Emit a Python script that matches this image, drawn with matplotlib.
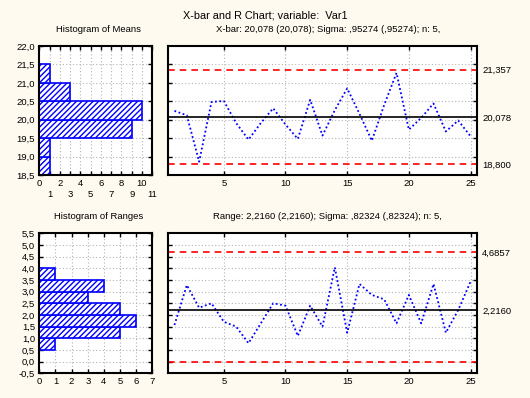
import matplotlib

matplotlib.use("Agg")
import matplotlib.pyplot as plt

plt.rcParams["font.family"] = ["Liberation Sans", "DejaVu Sans"]
plt.rcParams["hatch.linewidth"] = 1.0

# sample numbers and the values
samples = list(range(1, 26))
means = [20.24, 20.12, 18.86, 20.48, 20.51, 19.91, 19.46, 19.91, 20.31, 19.87,
         19.48, 20.54, 19.57, 20.26, 20.85, 20.16, 19.43, 20.40, 21.27, 19.73,
         20.05, 20.44, 19.68, 19.98, 19.55]
ranges = [1.57, 3.28, 2.31, 2.50, 1.71, 1.50, 0.79, 1.64, 2.50, 2.40,
          1.10, 2.40, 1.50, 4.04, 1.24, 3.33, 2.86, 2.67, 1.64, 2.86,
          1.64, 3.33, 1.24, 2.21, 3.43]

mean_bins = [18.5, 19.0, 19.5, 20.0, 20.5, 21.0]
mean_counts = [1, 1, 9, 10, 3, 1]
range_bins = [0.5, 1.0, 1.5, 2.0, 2.5, 3.0, 3.5]
range_counts = [1, 5, 6, 5, 3, 4, 1]

xbar_limits = [18.800, 20.078, 21.357]
r_limits = [0.0, 2.2160, 4.6857]

title = "X-bar and R Chart; variable:  Var1"
xbar_sub = "X-bar: 20,078 (20,078); Sigma: ,95274 (,95274); n: 5,"
r_sub = "Range: 2,2160 (2,2160); Sigma: ,82324 (,82324); n: 5,"

W, H = 530, 398
BG = "#FFFAF0"
GRID = dict(color="#B4B4B4", linestyle=(0, (1, 2)), linewidth=0.8)
TICKFS = 6.8


def comma(v, nd):
    return f"{v:.{nd}f}".replace(".", ",")


def box(left, top, right, bottom):
    return [left / W, 1 - bottom / H, (right - left) / W, (bottom - top) / H]


def style(ax):
    for s in ax.spines.values():
        s.set_linewidth(1.5)
    ax.set_axisbelow(True)
    ax.tick_params(direction="in", length=3, width=1, labelsize=TICKFS,
                   left=True, right=True, top=True, bottom=True, pad=3)


def histogram(ax, bins, counts, xmax, ylim, ystep):
    style(ax)
    ax.barh(bins, counts, height=0.5, align="edge", facecolor="white",
            edgecolor="#0000FF", hatch="//////", linewidth=1.2)
    ax.set_xlim(0, xmax)
    ax.set_ylim(*ylim)
    yt = [ylim[0] + ystep * i for i in range(int(round((ylim[1] - ylim[0]) / ystep)) + 1)]
    ax.set_yticks(yt)
    ax.set_yticklabels([comma(v, 1) for v in yt])
    ax.set_xticks(range(0, xmax + 1))
    ax.grid(True, **GRID)


def control(ax, x, y, limits, ylim, gridlevels, nd):
    style(ax)
    ax.plot(x, y, color="#0000FF", linestyle=(0, (1, 1.4)), linewidth=1.3)
    ax.axhline(limits[1], color="black", linewidth=1.2)
    ax.axhline(limits[0], color="#FF0000", linestyle=(0, (4, 3)), linewidth=1.2)
    ax.axhline(limits[2], color="#FF0000", linestyle=(0, (4, 3)), linewidth=1.2)
    ax.set_xlim(0.5, 25.5)
    ax.set_ylim(*ylim)
    ax.set_xticks([5, 10, 15, 20, 25])
    ax.set_yticks(gridlevels)
    ax.tick_params(axis="y", labelleft=False)
    ax.set_yticks(limits, minor=True)
    ax.set_yticklabels([comma(v, nd) for v in limits], minor=True)
    ax.tick_params(axis="y", which="minor", left=False, right=True, length=0,
                   labelleft=False, labelright=True, labelsize=TICKFS, pad=4)
    ax.tick_params(axis="x", which="minor", bottom=False, top=False)
    ax.grid(True, which="major", **GRID)


fig = plt.figure(figsize=(W / 100, H / 100), dpi=100, facecolor=BG)

ax1 = fig.add_axes(box(39.3, 46, 152.3, 175))
histogram(ax1, mean_bins, mean_counts, 11, (18.5, 22.0), 0.5)
ax1.set_xticklabels([str(i) if i % 2 == 0 else "\n" + str(i) for i in range(12)])

ax2 = fig.add_axes(box(168.3, 46, 476.7, 175))
control(ax2, samples, means, xbar_limits, (18.5, 22.0),
        [19.0, 19.5, 20.0, 20.5, 21.0, 21.5], 3)

ax3 = fig.add_axes(box(39.3, 233.3, 152.3, 373.3))
histogram(ax3, range_bins, range_counts, 7, (-0.5, 5.5), 0.5)

ax4 = fig.add_axes(box(168.3, 233.3, 476.7, 373.3))
control(ax4, samples, ranges, r_limits, (-0.5, 5.5),
        [0.5 * i for i in range(0, 11)], 4)

fig.text(0.5, 1 - 15 / H, title, ha="center", va="center", fontsize=7.8)
fig.text((168.3 + 476.7) / 2 / W + 0.01, 1 - 30 / H, xbar_sub, ha="center", va="center", fontsize=6.8)
fig.text((168.3 + 476.7) / 2 / W + 0.01, 1 - 216.5 / H, r_sub, ha="center", va="center", fontsize=6.8)
fig.text(98.7 / W, 1 - 30 / H, "Histogram of Means", ha="center", va="center", fontsize=6.8)
fig.text(98.7 / W, 1 - 216.5 / H, "Histogram of Ranges", ha="center", va="center", fontsize=6.8)

fig.savefig("out.png", dpi=100, facecolor=BG)
